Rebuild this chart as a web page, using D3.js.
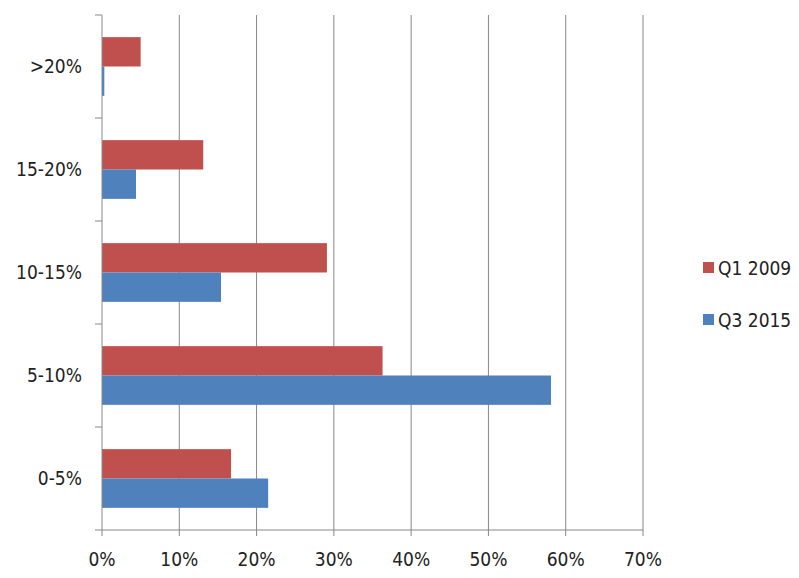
<!DOCTYPE html><html><head><meta charset="utf-8">
<script src="https://cdn.jsdelivr.net/npm/d3@7"></script>
<style>body{margin:0;background:#fff}text{font-family:"Liberation Sans Narrow","DejaVu Sans Condensed","Roboto Condensed",sans-serif;fill:#222}</style>
</head><body><svg id="c" width="799" height="578"></svg><script>
const categories=[">20%","15-20%","10-15%","5-10%","0-5%"];
const seriesNames=["Q1 2009","Q3 2015"];
const q12009=[5.0,13.1,29.1,36.3,16.7];
const q32015=[0.3,4.4,15.4,58.1,21.5];
const xTicks=[0,10,20,30,40,50,60,70];
const colors=["#C0504D","#4F81BD"];
const svg=d3.select("#c");
const L=102,R=643,T=15,B=530;
const x=d3.scaleLinear().domain([0,70]).range([L,R]);
const y=d3.scaleBand().domain(categories).range([T,B]).paddingInner(0.43).paddingOuter(0.215);
const sub=d3.scaleBand().domain(seriesNames).range([0,y.bandwidth()]);
svg.selectAll(".g").data(xTicks.slice(1)).join("line").attr("x1",d=>x(d)).attr("x2",d=>x(d)).attr("y1",T).attr("y2",B).attr("stroke","#888").attr("stroke-width",1);
const data=[q12009,q32015];
data.forEach((s,i)=>{svg.selectAll(".b"+i).data(categories).join("rect").attr("x",L).attr("y",c=>y(c)+sub(seriesNames[i])).attr("height",sub.bandwidth()).attr("width",(c,j)=>x(s[j])-L).attr("fill",colors[i]);});
svg.append("line").attr("x1",L).attr("x2",L).attr("y1",T).attr("y2",B).attr("stroke","#888");
const bounds=d3.range(categories.length+1).map(i=>T+i*(B-T)/categories.length);
svg.selectAll(".lt").data(bounds).join("line").attr("x1",L-7).attr("x2",L).attr("y1",d=>d).attr("y2",d=>d).attr("stroke","#888");
svg.append("line").attr("x1",L).attr("x2",R).attr("y1",B).attr("y2",B).attr("stroke","#888");
svg.selectAll(".bt").data(xTicks).join("line").attr("x1",d=>x(d)).attr("x2",d=>x(d)).attr("y1",B).attr("y2",B+6).attr("stroke","#888");
svg.selectAll(".cl").data(categories).join("text").attr("x",L-20).attr("y",c=>y(c)+y.bandwidth()/2).attr("dy","0.35em").attr("text-anchor","end").attr("font-size",19).text(c=>c);
svg.selectAll(".xl").data(xTicks).join("text").attr("x",d=>x(d)).attr("y",B+36).attr("text-anchor","middle").attr("font-size",19).text(d=>d+"%");
seriesNames.forEach((n,i)=>{const yy=268+i*52;
svg.append("rect").attr("x",703).attr("y",yy-6).attr("width",11).attr("height",11).attr("fill",colors[i]);
svg.append("text").attr("x",718).attr("y",yy).attr("dy","0.35em").attr("font-size",19).text(n);});
</script></body></html>
